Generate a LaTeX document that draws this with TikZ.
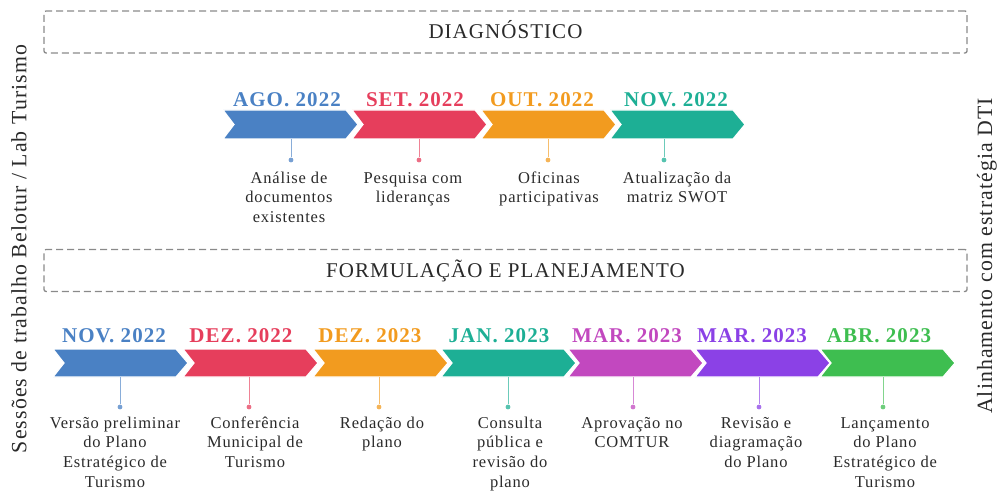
\documentclass[tikz,border=0pt]{standalone}
\usepackage{fontspec}
\setmainfont{Liberation Serif}
\newfontfamily\trk[LetterSpace=5]{Liberation Serif}
\definecolor{cblue}{HTML}{4A81C4}
\definecolor{cred}{HTML}{E63E5C}
\definecolor{corange}{HTML}{F29B1F}
\definecolor{cteal}{HTML}{1DAF95}
\definecolor{cmag}{HTML}{C248BF}
\definecolor{cpurp}{HTML}{8B41E6}
\definecolor{cgreen}{HTML}{3EBE50}
\definecolor{boxgray}{HTML}{8A8A8A}
\definecolor{txt}{HTML}{2A2A2A}
\tikzset{
  phasebox/.style={draw=boxgray, line width=1.3pt, dash pattern=on 7pt off 4pt, rounded corners=2pt},
  phasetext/.style={font=\trk\fontsize{21}{25}\selectfont, text=txt, anchor=base, inner sep=0pt},
  datelbl/.style={font=\trk\bfseries\fontsize{21}{25}\selectfont, anchor=base, inner sep=0pt},
  desc/.style={font=\trk\fontsize{16.5}{19.6}\selectfont, text=txt, align=center, anchor=north, inner sep=0pt},
  sidetext/.style={font=\trk\fontsize{21.8}{26}\selectfont, text=txt, rotate=90, inner sep=0pt},
  chevshape/.style={draw=white, line width=1.2pt},
  stem/.style={line width=0.9pt},
  dotmark/.style={circle, inner sep=0pt, minimum size=4.8pt}
}
\begin{document}
\begin{tikzpicture}[x=1pt,y=-1pt]
\useasboundingbox (0,0) rectangle (997,492);
% phase boxes
\node[phasebox, minimum width=923pt, minimum height=42pt, inner sep=0pt] (box1) at (505.5,32) {};
\node[phasetext] (h1) at (505.5,39) {DIAGNÓSTICO};
\node[phasebox, minimum width=923pt, minimum height=42pt, inner sep=0pt] (box2) at (505.5,270.5) {};
\node[phasetext] (h2) at (505.5,277.3) {FORMULAÇÃO E PLANEJAMENTO};
% side texts
\node[sidetext] (side1) at (19,249) {Sessões de trabalho Belotur / Lab Turismo};
\node[sidetext] (side2) at (987,256) {Alinhamento com estratégia DTI};
% top row
\foreach \i/\xs/\xst/\xd/\xt/\col/\dt/\desc in {
  1/223/291/287/289/cblue/{AGO. 2022}/{Análise de\\documentos\\existentes},
  2/352/419/415/413/cred/{SET. 2022}/{Pesquisa com\\lideranças},
  3/481/548/542/549/corange/{OUT. 2022}/{Oficinas\\participativas},
  4/610/664/676/677/cteal/{NOV. 2022}/{Atualização da\\matriz SWOT}}
{
  \filldraw[chevshape, fill=\col] (\xs,110) -- ++(123,0) -- ++(12,14.5) -- ++(-12,14.5) -- ++(-123,0) -- ++(11,-14.5) -- cycle;
  \coordinate (t\i) at (\xst,139);
  \node[dotmark, fill=\col!75!white] (td\i) at (\xst,160) {};
  \draw[stem, draw=\col!65!white] (t\i) -- (td\i);
  \node[datelbl, text=\col] (tl\i) at (\xd,107) {\dt};
  \node[desc] (tx\i) at (\xt,168) {\rule{0pt}{15pt}\desc};
}
% bottom row
\foreach \i/\xs/\xst/\xd/\xt/\col/\dt/\desc in {
  1/53/120/114/115/cblue/{NOV. 2022}/{Versão preliminar\\do Plano\\Estratégico de\\Turismo},
  2/183/249/241/255/cred/{DEZ. 2022}/{Conferência\\Municipal de\\Turismo},
  3/313/379/370/382/corange/{DEZ. 2023}/{Redação do\\plano},
  4/441/508/499/510/cteal/{JAN. 2023}/{Consulta\\pública e\\revisão do\\plano},
  5/568/633/627/632/cmag/{MAR. 2023}/{Aprovação no\\COMTUR},
  6/695/759/752/756/cpurp/{MAR. 2023}/{Revisão e\\diagramação\\do Plano},
  7/820/883/879/885/cgreen/{ABR. 2023}/{Lançamento\\do Plano\\Estratégico de\\Turismo}}
{
  \filldraw[chevshape, fill=\col] (\xs,349) -- ++(123,0) -- ++(12,14) -- ++(-12,14) -- ++(-123,0) -- ++(11,-14) -- cycle;
  \coordinate (b\i) at (\xst,377);
  \node[dotmark, fill=\col!75!white] (bd\i) at (\xst,407) {};
  \draw[stem, draw=\col!65!white] (b\i) -- (bd\i);
  \node[datelbl, text=\col] (bl\i) at (\xd,342) {\dt};
  \node[desc] (bx\i) at (\xt,413) {\rule{0pt}{15pt}\desc};
}
\end{tikzpicture}
\end{document}
